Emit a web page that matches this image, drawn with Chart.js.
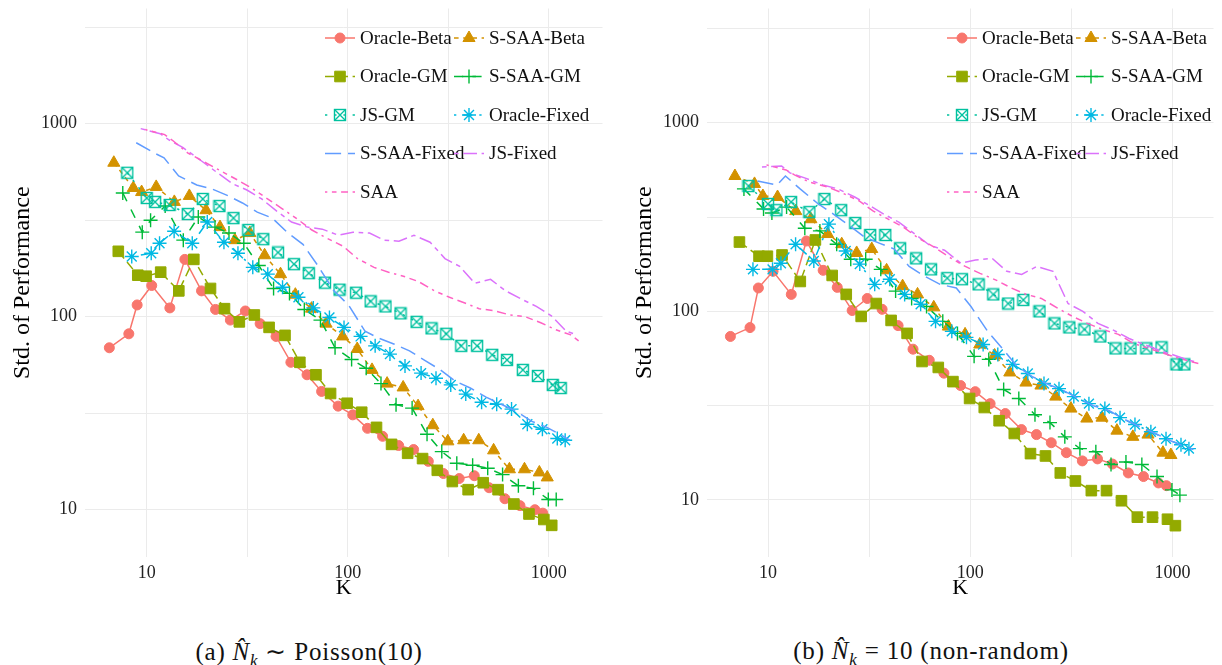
<!DOCTYPE html>
<html>
<head>
<meta charset="utf-8">
<script src="https://cdn.jsdelivr.net/npm/chart.js@4.4.0/dist/chart.umd.min.js"></script>
<style>
  body { margin: 0; background: #fff; width: 1222px; height: 665px; overflow: hidden; position: relative; font-family: "Liberation Serif", serif; }
  canvas { position: absolute; top: 0; }
  #chartA { left: 0; }
  #chartB { left: 611px; }
  .cap { position: absolute; top: 637px; width: 400px; text-align: center; font-size: 25px; color: #111; white-space: nowrap; letter-spacing: 0.8px; }
  .cap sub { font-size: 17px; }
</style>
</head>
<body>
<canvas id="chartA" width="611" height="610"></canvas>
<canvas id="chartB" width="611" height="610"></canvas>
<div class="cap" style="left:109px">(a) <i>N&#770;<sub>k</sub></i> &#8764; Poisson(10)</div>
<div class="cap" style="left:731px">(b) <i>N&#770;<sub>k</sub></i> = 10 (non-random)</div>
<script>
// number of scenarios K (shared by both panels)
var K = [8, 10, 11, 13, 16, 19, 23, 27, 32, 38, 45, 54, 64, 77, 91, 110, 130, 154, 183, 220, 261, 309, 367, 440, 523, 620, 743, 883, 1047, 1146];
var methods = ['Oracle-Beta', 'S-SAA-Beta', 'Oracle-GM', 'S-SAA-GM', 'JS-GM', 'Oracle-Fixed', 'S-SAA-Fixed', 'JS-Fixed', 'SAA'];

// (a) N_k ~ Poisson(10)
var aOracleBeta  = [69, 81.5, 115, 145, 111, 198, 136, 109, 96, 107, 92, 79, 58, 50, 41, 34.4, 31, 26.4, 24, 21.5, 20.5, 17.8, 15.4, 14.5, 15, 13, 11.4, 10.5, 10, 9.6];
var aSSAABeta    = [627, 464, 442, 470, 393, 422, 356, 291, 249, 271, 208, 166, 130, 110, 92, 79, 68, 53, 45, 43, 34.4, 27.4, 22.6, 22.9, 22.9, 20.3, 16.2, 16.2, 15.6, 14.7];
var aOracleGM    = [218, 164, 162, 170, 136, 198, 140, 110, 94, 102, 88, 80, 58, 50, 40, 35.6, 32, 26.7, 21.8, 19.6, 18.4, 16, 14, 12.7, 13.8, 12.7, 10.7, 9.5, 8.9, 8.3];
var aSSAAGM      = [437, 274, 316, 374, 249, 328, 291, 271, 240, 184, 140, 132, 109, 96, 69, 60, 54, 45, 35, 33.6, 24.6, 20, 17.4, 17, 16.4, 15.2, 13.3, 12.9, 11.3, 11.3];
var aJSGM        = [556, 412, 393, 379, 340, 407, 374, 324, 281, 252, 215, 187, 168, 150, 138, 133, 120, 113, 104, 94, 87, 81.5, 70.6, 70.6, 63.4, 59.7, 53, 49.3, 44.3, 42.7];
var aOracleFixed = [205, 213, 240, 277, 240, 309, 243, 213, 180, 166, 142, 126, 111, 99, 88, 79, 70.6, 64, 55.6, 51, 48, 44.3, 39.7, 36, 35.2, 33.2, 27.7, 26.1, 23.4, 22.9];
var aSSAAFixed   = [796, 698, 665, 536, 481, 459, 422, 388, 348, 324, 274, 237, 184, 136, 115, 84, 77, 72, 66.5, 59, 53, 46.4, 42.7, 38.3, 35.2, 32.4, 28.7, 26.7, 24.3, 22.9];
var aJSFixed     = [942, 887, 826, 750, 642, 562, 487, 453, 407, 352, 309, 291, 284, 264, 274, 271, 249, 246, 264, 243, 200, 182, 149, 156, 136, 124, 113, 101, 84, 81.5];
var aSAA         = [931, 877, 815, 706, 627, 569, 511, 464, 412, 365, 324, 281, 255, 232, 200, 180, 170, 162, 152, 136, 126, 118, 110, 107, 102, 100, 93, 85.5, 80.5, 75];

// (b) N_k = 10
var bOracleBeta  = [73.6, 82, 133, 163, 123, 236, 165, 134, 101, 117, 102.5, 84, 63, 55, 47, 40.4, 37.5, 32.4, 28.7, 23.6, 22.2, 20.1, 17.8, 16.1, 16.5, 15.5, 13.9, 13.3, 12.3, 11.9];
var bSSAABeta    = [522, 474, 409, 404, 340, 308, 257, 227, 204, 214, 165, 136, 123, 105, 83, 75.5, 66.7, 58.3, 47.4, 41.9, 40.4, 35.3, 30.5, 27, 27.3, 23.3, 21.6, 22.2, 17.8, 17.3];
var bOracleGM    = [233, 196, 196, 199, 144, 239, 155, 123, 94, 110, 89.5, 76.4, 54.2, 50.4, 42.4, 34.5, 30.9, 26.3, 22.5, 17.6, 17.1, 13.9, 12.6, 11.2, 11.2, 9.9, 8.1, 8.1, 7.9, 7.3];
var bSSAAGM      = [446, 349, 332, 357, 276, 267, 227, 189, 189, 167, 128, 117, 106, 88.5, 76.4, 57.7, 55.6, 38.5, 34.5, 28.3, 25.7, 21.6, 18.7, 18, 15.4, 15.9, 15.4, 13.3, 11.3, 10.6];
var bJSGM        = [462, 371, 344, 380, 336, 394, 344, 294, 254, 254, 216, 191, 167, 150, 148, 139, 123, 110, 115, 100, 86.3, 82.2, 80.2, 73.6, 63.6, 63.6, 63.6, 64.4, 52.3, 52.3];
var bOracleFixed = [167, 167, 180, 227, 185, 290, 209, 178, 139, 148, 123, 109, 88.5, 78.3, 72.8, 66.7, 59, 52.3, 46.8, 41.4, 38.9, 35.3, 32.4, 30.5, 27.3, 25.1, 23, 21.1, 19.6, 18.7];
var bSSAAFixed   = [491, 468, 522, 446, 371, 328, 283, 248, 230, 214, 173, 153, 139, 133, 106, 78.3, 63.6, 51, 45.1, 40.9, 38, 34.5, 31.6, 29.7, 26.7, 24.5, 22.5, 20.6, 19.1, 18.5];
var bJSFixed     = [583, 590, 542, 510, 468, 446, 404, 366, 328, 297, 260, 224, 211, 180, 187, 191, 163, 157, 173, 163, 110, 100, 86.3, 79.3, 71.8, 66.7, 62, 58.3, 54.8, 53.5];
var bSAA         = [598, 562, 529, 485, 457, 424, 385, 340, 308, 280, 245, 219, 194, 173, 159, 146, 133, 123, 117, 104, 94, 86.3, 80.2, 75.5, 67.6, 63.6, 59.8, 56.2, 53.5, 52.3];

// styles
var colors = ['#F8766D', '#D39200', '#93AA00', '#00BA38', '#00C19F', '#00B9E3', '#619CFF', '#DB72FB', '#FF61C3'];
var unit = 2.3;
var dashes = [[], [2, 2], [4, 2], [4, 4], [1, 3], [1, 3, 4, 3], [7, 3], [2, 2, 6, 2], [1, 2, 2, 2, 3, 2, 4, 2]].map(function (d) {
  return d.map(function (v) { return v * unit; });
});
var dodge = 0.0223; // horizontal dodge between methods, in log10 units
var serif = '"Liberation Serif", "Times New Roman", serif';

function boxX(color) {
  var c = document.createElement('canvas');
  c.width = 14; c.height = 14;
  var g = c.getContext('2d');
  g.strokeStyle = color;
  g.lineWidth = 1.4;
  g.strokeRect(1.5, 1.5, 11, 11);
  g.beginPath();
  g.moveTo(1.5, 1.5); g.lineTo(12.5, 12.5);
  g.moveTo(12.5, 1.5); g.lineTo(1.5, 12.5);
  g.stroke();
  return c;
}

var shapes = ['circle', 'triangle', 'rect', 'cross', boxX(colors[4]), 'star', false, false, false];
var radii = [5, 7, 7.5, 7, 7, 7, 0, 0, 0];
var filled = [true, true, true, false, false, false, false, false, false];

function makeDatasets(series) {
  return series.map(function (vals, j) {
    var f = Math.pow(10, (j - 4) * dodge);
    return {
      label: methods[j],
      data: K.map(function (k, i) { return { x: k * f, y: vals[i] }; }),
      borderColor: colors[j],
      backgroundColor: colors[j],
      borderWidth: 1.5,
      borderDash: dashes[j],
      pointStyle: shapes[j],
      pointRadius: radii[j],
      pointHoverRadius: radii[j],
      pointBorderWidth: filled[j] ? 1 : 1.4,
      pointBackgroundColor: filled[j] ? colors[j] : 'rgba(0,0,0,0)',
      tension: 0,
      order: 9 - j
    };
  });
}

var ggLegend = {
  id: 'ggLegend',
  afterDraw: function (chart, args, o) {
    var ctx = chart.ctx;
    chart.data.datasets.forEach(function (ds, j) {
      var cx = o.keyX[j % 2];
      var cy = o.y0 + Math.floor(j / 2) * o.dy;
      ctx.save();
      ctx.strokeStyle = ds.borderColor;
      ctx.lineWidth = 1.5;
      ctx.setLineDash(ds.borderDash);
      ctx.beginPath();
      ctx.moveTo(cx - 15, cy);
      ctx.lineTo(cx + 15, cy);
      ctx.stroke();
      ctx.setLineDash([]);
      if (shapes[j]) {
        ctx.fillStyle = filled[j] ? colors[j] : 'rgba(0,0,0,0)';
        ctx.strokeStyle = colors[j];
        ctx.lineWidth = filled[j] ? 1 : 1.4;
        Chart.helpers.drawPoint(ctx, { pointStyle: shapes[j], radius: radii[j], rotation: 0, borderWidth: ctx.lineWidth }, cx, cy);
      }
      ctx.fillStyle = '#111';
      ctx.font = '19px ' + serif;
      ctx.textBaseline = 'middle';
      ctx.textAlign = 'left';
      ctx.fillText(ds.label, cx + 20, cy + 1);
      ctx.restore();
    });
  }
};

function logTicks(list) {
  return function (s) { s.ticks = list.map(function (v) { return { value: v }; }); };
}
function majorLabel(v) {
  return (v === 10 || v === 100 || v === 1000) ? String(v) : '';
}

function makePanel(id, series, p) {
  return new Chart(document.getElementById(id), {
    type: 'line',
    data: { datasets: makeDatasets(series) },
    plugins: [ggLegend],
    options: {
      responsive: false,
      animation: false,
      layout: { padding: { top: 0, right: p.padRight, bottom: 9, left: 0 } },
      plugins: {
        legend: { display: false },
        tooltip: { enabled: false },
        ggLegend: { keyX: p.keyX, y0: 38, dy: 38.5 }
      },
      scales: {
        x: {
          type: 'logarithmic',
          min: p.xmin, max: p.xmax,
          afterBuildTicks: logTicks([10, 31.62, 100, 316.2, 1000]),
          afterFit: function (s) { s.height = 44; s.paddingLeft = 0; s.paddingRight = 0; },
          ticks: { callback: majorLabel, autoSkip: false, maxRotation: 0, padding: 5, color: '#222', font: { family: serif, size: 18 } },
          grid: { color: '#ebebeb', lineWidth: 1, drawTicks: false },
          border: { display: false },
          title: { display: true, text: 'K', color: '#000', padding: 0, font: { family: serif, size: 22 } }
        },
        y: {
          type: 'logarithmic',
          min: p.ymin, max: p.ymax,
          afterBuildTicks: logTicks([10, 31.62, 100, 316.2, 1000, 3162]),
          afterFit: function (s) { s.width = p.yWidth; s.paddingTop = 0; s.paddingBottom = 0; },
          ticks: { callback: majorLabel, autoSkip: false, padding: 8, color: '#222', font: { family: serif, size: 18 } },
          grid: { color: '#ebebeb', lineWidth: 1, drawTicks: false },
          border: { display: false },
          title: { display: true, text: 'Std. of Performance', color: '#000', padding: { top: p.titlePad, bottom: 0 }, font: { family: serif, size: 24 } }
        }
      }
    }
  });
}

makePanel('chartA',
  [aOracleBeta, aSSAABeta, aOracleGM, aSSAAGM, aJSGM, aOracleFixed, aSSAAFixed, aJSFixed, aSAA],
  { xmin: 4.93, xmax: 1850, ymin: 5.69, ymax: 3946, yWidth: 85, padRight: 6, titlePad: 8, keyX: [340, 469] });

makePanel('chartB',
  [bOracleBeta, bSSAABeta, bOracleGM, bSSAAGM, bJSGM, bOracleFixed, bSSAAFixed, bJSFixed, bSAA],
  { xmin: 4.99, xmax: 1596, ymin: 4.98, ymax: 4036, yWidth: 96, padRight: 0, titlePad: 19, keyX: [351, 480] });
</script>
</body>
</html>
